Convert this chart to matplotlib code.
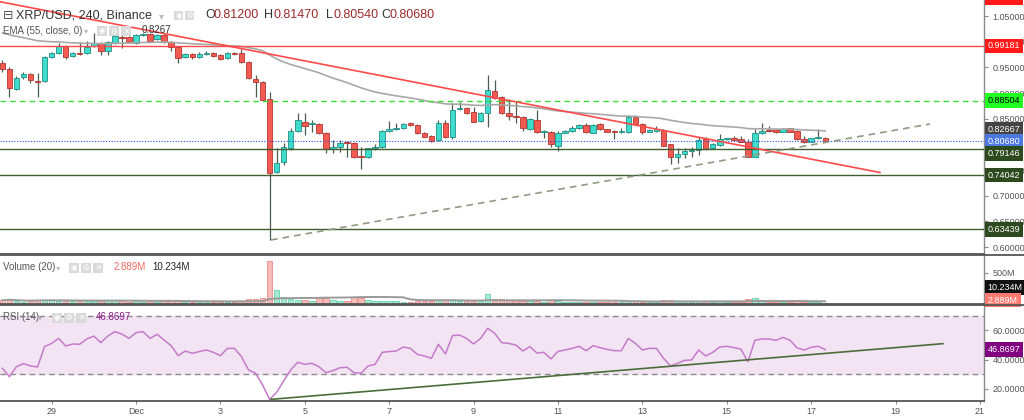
import numpy as np
import pandas as pd
import matplotlib
matplotlib.use("Agg")
import matplotlib.pyplot as plt
from matplotlib.patches import Rectangle
from matplotlib.lines import Line2D

plt.rcParams['font.family'] = ['Liberation Sans', 'DejaVu Sans']

# ---------------- data ----------------
first_bar = "2021-11-27 20:00"
opens = [
    .9587, .9470, .9080, .9314, .9372, .9236, .9236, .9703, .9781, .9918,
    .9723, .9781, .9781, .9918, .9976, .9820, .9976, 1.0093, 1.0093, .9976,
    1.0132, 1.0151, 1.0054, 1.0132, .9996, .9898, .9703, .9762, .9703, .9762,
    .9781, .9742, .9684, .9781, .9781, .9606, .9275, .9216, .8880, .7469,
    .7652, .7925, .8268, .8443, .8398, .8393, .8217, .7906, .7956, .8054,
    .8034, .7775, .7750, .7937, .7944, .8262, .8301, .8315, .8424, .8379,
    .8217, .8165, .8087, .8424, .8139, .8685, .8716, .8626, .8457, .8607,
    .9047, .8918, .8607, .8560, .8529, .8301, .8476, .8237, .8237, .7970,
    .8229, .8262, .8315, .8379, .8229, .8393, .8295, .8262, .8237, .8237,
    .8529, .8398, .8248, .8262, .8281, .8003, .7750, .7814, .7872, .7892,
    .8100, .7925, .7989, .8100, .8120, .8106, .8054, .7761, .8217, .8268,
    .8281, .8248, .8315, .8262, .8100, .8054, .8120, .8120]
highs = [
    .9645, .9509, .9333, .9411, .9392, .9392, .9723, .9801, .9976, .9937,
    .9801, .9996, 1.0015, 1.0171, .9996, 1.0015, 1.0132, 1.0171, 1.0112, 1.0151,
    1.0171, 1.0171, 1.0151, 1.0151, 1.0015, .9918, .9781, .9781, .9801, .9820,
    .9801, .9762, .9801, .9801, .9859, .9626, .9353, .9236, .9027, .7931,
    .8028, .8320, .8613, .8613, .8476, .8418, .8243, .8087, .8087, .8067,
    .8048, .7950, .7931, .8009, .8281, .8457, .8424, .8418, .8437, .8398,
    .8243, .8184, .8476, .8476, .8801, .8833, .8730, .8724, .8632, .9353,
    .9255, .8944, .8885, .8833, .8554, .8515, .8671, .8281, .8262, .8262,
    .8281, .8359, .8398, .8424, .8398, .8418, .8301, .8281, .8315, .8574,
    .8574, .8418, .8301, .8365, .8301, .8009, .7931, .7925, .7944, .8139,
    .8151, .8028, .8204, .8132, .8165, .8165, .8100, .8295, .8412, .8359,
    .8291, .8326, .8320, .8281, .8165, .8126, .8295, .8147]
lows = [
    .9411, .8924, .9061, .9275, .9197, .8924, .9216, .9684, .9762, .9665,
    .9703, .9742, .9762, .9898, .9742, .9742, .9957, .9879, .9976, .9957,
    1.0112, .9996, 1.0035, .9976, .9820, .9587, .9684, .9665, .9684, .9742,
    .9703, .9645, .9665, .9742, .9587, .9275, .8924, .8846, .6139, .7444,
    .7600, .7892, .8243, .8184, .8243, .8204, .7834, .7834, .7853, .7761,
    .7736, .7522, .7736, .7892, .7931, .8243, .8281, .8301, .8359, .8204,
    .8145, .8048, .8067, .8126, .8106, .8671, .8593, .8437, .8437, .8346,
    .8885, .8593, .8476, .8424, .8268, .8281, .8223, .8126, .7956, .7878,
    .8223, .8243, .8301, .8223, .8223, .8281, .8243, .8106, .8223, .8223,
    .8379, .8204, .8243, .8252, .7970, .7619, .7639, .7730, .7750, .7795,
    .7892, .7911, .7970, .8087, .8067, .8048, .7756, .7756, .8204, .8243,
    .8217, .8243, .8243, .8096, .8038, .8048, .8112, .8054]
closes = [
    .9470, .9099, .9294, .9372, .9255, .9216, .9703, .9781, .9918, .9703,
    .9781, .9762, .9898, .9976, .9820, .9996, 1.0112, 1.0073, .9996, 1.0132,
    1.0151, 1.0015, 1.0132, .9996, .9898, .9684, .9762, .9703, .9762, .9781,
    .9723, .9665, .9781, .9762, .9606, .9294, .9216, .8866, .7450, .7633,
    .7956, .8268, .8476, .8365, .8418, .8217, .7906, .7956, .8034, .8034,
    .7750, .7750, .7925, .7956, .8268, .8301, .8315, .8398, .8379, .8217,
    .8151, .8067, .8424, .8139, .8671, .8716, .8607, .8443, .8618, .9061,
    .8899, .8607, .8560, .8529, .8315, .8490, .8237, .8248, .8003, .8217,
    .8268, .8315, .8379, .8237, .8379, .8295, .8248, .8243, .8248, .8529,
    .8398, .8248, .8281, .8295, .7976, .7750, .7814, .7878, .7892, .8087,
    .7906, .8003, .8106, .8120, .8087, .8054, .7761, .8229, .8262, .8256,
    .8243, .8301, .8248, .8106, .8048, .8120, .8139, .8068]
volumes_m = [
    60, 78, 45, 40, 48, 70, 72, 68, 50, 55,
    42, 45, 50, 55, 48, 62, 58, 45, 40, 42,
    38, 45, 40, 42, 50, 55, 38, 36, 35, 33,
    35, 40, 36, 34, 55, 78, 75, 90, 700, 230,
    106, 88, 70, 62, 50, 100, 90, 60, 52, 48,
    105, 100, 60, 45, 55, 50, 42, 40, 38, 45,
    48, 52, 72, 70, 65, 50, 45, 50, 42, 160,
    78, 75, 60, 55, 55, 45, 50, 40, 60, 55,
    35, 32, 35, 40, 38, 35, 30, 32, 30, 55,
    45, 40, 35, 32, 60, 70, 55, 45, 40, 50,
    55, 40, 45, 35, 32, 35, 75, 95, 50, 40,
    35, 38, 32, 45, 40, 35, 38, 22]
rsi_values = [
    34.1, 28.4, 35.2, 37.3, 35.7, 35.0, 48.9, 51.1, 54.5, 49.3,
    50.7, 50.5, 54.1, 56.1, 51.6, 56.1, 59.1, 57.5, 54.5, 58.4,
    59.1, 54.5, 57.3, 53.4, 49.5, 42.7, 45.9, 44.3, 45.5, 46.6,
    45.0, 42.7, 47.7, 47.7, 42.0, 33.0, 30.7, 22.7, 12.9, 17.7,
    25.5, 33.0, 38.2, 36.8, 37.5, 35.2, 31.1, 32.5, 34.5, 34.8,
    31.1, 30.7, 35.7, 36.8, 45.0, 45.5, 45.9, 48.6, 47.7, 43.6,
    42.5, 40.9, 50.5, 43.9, 56.4, 56.8, 54.5, 50.7, 54.5, 61.4,
    58.0, 51.6, 51.1, 50.0, 45.9, 48.9, 44.5, 45.0, 40.5, 45.7,
    46.6, 47.7, 49.1, 46.1, 49.5, 48.2, 47.0, 46.1, 46.1, 54.5,
    51.1, 46.6, 47.7, 47.7, 40.9, 35.7, 37.5, 39.5, 39.8, 46.6,
    42.5, 45.0, 48.6, 49.1, 48.2, 47.3, 38.6, 53.2, 54.1, 54.1,
    53.2, 55.2, 53.2, 48.0, 46.6, 48.4, 49.1, 46.87]
ema_seed = 1.02
ema_length = 55
vol_ma_length = 20

# drawings (time, price)
red_trend = [("2021-11-27 18:39", 1.0780), ("2021-12-18 15:07", 0.7454)]
support_trend = [("2021-12-04 04:48", 0.6140), ("2021-12-19 19:34", 0.8398)]
rsi_trend = [("2021-12-04 04:48", 12.9), ("2021-12-20 02:53", 50.9)]
level_red = 0.99181
level_green = 0.88504
levels_dark = [0.79146, 0.74042, 0.63439]
last_price = 0.80680
ema_last = 0.82667

tick_dates = pd.date_range("2021-11-29", "2021-12-21", freq="2D")
tick_labels = ["29", "Dec", "3", "5", "7", "9", "11", "13", "15", "17", "19", "21"]
price_ticks = [0.60, 0.65, 0.70, 0.75, 0.80, 0.85, 0.90, 0.95, 1.00, 1.05]

# ---------------- helpers ----------------
origin = pd.Timestamp("2021-12-01")
def tnum(ts):
    return (pd.Timestamp(ts) - origin) / pd.Timedelta(days=1)

dates = pd.date_range(first_bar, periods=len(closes), freq="4h")
x = np.array([(d - origin) / pd.Timedelta(days=1) for d in dates])
O = np.array(opens); Hh = np.array(highs); L = np.array(lows); C = np.array(closes)
up = C >= O

ema = []
e = ema_seed
alpha = 2.0 / (ema_length + 1)
for c in closes:
    e = e + alpha * (c - e)
    ema.append(e)
vol_ma = pd.Series(volumes_m).rolling(vol_ma_length, min_periods=1).mean()

W, H = 1024, 420
fig = plt.figure(figsize=(W / 100, H / 100), dpi=100)
fig.patch.set_facecolor("white")
def fx(px): return px / W
def fy(py): return 1 - py / H

RSI_BOTTOM = 401
ax = fig.add_axes([0, fy(254.5), fx(984), 254.5 / H])
axv = fig.add_axes([0, fy(304), fx(984), (304 - 255) / H])
axr = fig.add_axes([0, fy(RSI_BOTTOM), fx(984), (RSI_BOTTOM - 305) / H])

XL = (-3.2227, 20.095)
UP, DN = "#3fdccd", "#f25a52"
UPE, DNE = "#1f8f84", "#b5352f"
WICK = "#4d5e50"

for a in (ax, axv, axr):
    a.set_xlim(*XL)
    a.set_facecolor("white")
    for s in ("left", "top"):
        a.spines[s].set_visible(False)
    a.spines["right"].set_color("#8a8a8a")
    a.spines["right"].set_linewidth(1)
    a.spines["bottom"].set_color("#555555")
    a.spines["bottom"].set_linewidth(1.3)
    a.yaxis.tick_right()
    a.tick_params(axis="y", direction="out", length=3, width=0.8, color="#888888",
                  labelcolor="#555555", labelsize=6.5, pad=3)

for a in (ax, axv):
    a.tick_params(axis="x", bottom=False, labelbottom=False)

# ---- main pane ----
ax.set_ylim(0.58566, 1.08136)
ax.set_yticks(price_ticks)
# the 0.80 label sits fully behind the price tags in the reference
ax.set_yticklabels(["" if abs(p - 0.80) < 1e-9 else f"{p:.5f}" for p in price_ticks])

bw = 0.13
ax.vlines(x, L, Hh, color=WICK, lw=0.9, zorder=2)
heights = np.maximum(np.abs(C - O), 0.0018)
bottoms = np.minimum(O, C)
ax.bar(x, heights, bottom=bottoms, width=bw,
       color=np.where(up, UP, DN), edgecolor=np.where(up, UPE, DNE), linewidth=0.6, zorder=3)

ax.plot(x, ema, color="#a8a8a8", lw=1.2, zorder=3.5)

ax.axhline(level_red, color="#ff4a4a", lw=1, zorder=4)
ax.axhline(level_green, color="#3cdc3c", lw=1, ls=(0, (4, 3)), zorder=4)
ax.axhline(last_price, color="#3050e0", lw=0.8, ls=(0, (1, 1.5)), zorder=4)
for lv in levels_dark:
    ax.axhline(lv, color="#3f5f30", lw=1, zorder=4)

ax.plot([tnum(t) for t, _ in red_trend], [p for _, p in red_trend], color="#ff4a4a", lw=1.2, zorder=4)
ax.plot([tnum(t) for t, _ in support_trend], [p for _, p in support_trend],
        color="#8d9c82", lw=1.2, ls=(0, (4, 3)), zorder=4)

def tag(a, y, text, fc, tc="white", dy=0):
    a.annotate(text, xy=(1.0, y), xycoords=("axes fraction", "data"), xytext=(2.6, dy),
               textcoords="offset points", ha="left", va="center", fontsize=6.5, color=tc,
               bbox=dict(boxstyle="square,pad=0.32", fc=fc, ec="none"),
               annotation_clip=False, zorder=10)

tag(ax, 1.0866, "1.08660", "#ff1a1a")
tag(ax, level_red, f"{level_red:.5f}", "#ff1a1a")
tag(ax, level_green, f"{level_green:.5f}", "#22ff22", tc="black")
tag(ax, ema_last, f"{ema_last:.5f}", "#444444", dy=0.8)
tag(ax, last_price, f"{last_price:.5f}", "#4c78e0", dy=-0.6)
tag(ax, levels_dark[0], f"{levels_dark[0]:.5f}", "#2d4a1e", dy=-3.5)
tag(ax, levels_dark[1], f"{levels_dark[1]:.5f}", "#2d4a1e")
tag(ax, levels_dark[2], f"{levels_dark[2]:.5f}", "#2d4a1e")

# ---- volume pane ----
axv.set_ylim(0, 790)
axv.set_yticks([500])
axv.set_yticklabels(["500M"])
axv.bar(x, volumes_m, width=bw, color=np.where(up, "#a6ead2", "#f8bdbb"),
        edgecolor=np.where(up, "#62d4aa", "#f08a86"), linewidth=0.6, zorder=2)
axv.plot(x, vol_ma, color="#9a9a9a", lw=1.4, zorder=3)
for text, fc, tc, yf in [("10.234M", "#111111", "white", 0.34), ("2.889M", "#ff7a70", "white", 0.08)]:
    axv.annotate(text, xy=(1.0, yf), xycoords="axes fraction", xytext=(2.6, 0),
                 textcoords="offset points", ha="left", va="center", fontsize=6.5, color=tc,
                 bbox=dict(boxstyle="square,pad=0.32", fc=fc, ec="none"),
                 annotation_clip=False, zorder=10)

# ---- RSI pane ----
axr.set_ylim(70 - (RSI_BOTTOM - 315.7) / 1.465, 77.3)
axr.fill_between(XL, 30, 70, color="#f2e4f2", zorder=0)
axr.axhline(70, color="#8c8c8c", lw=1, ls=(0, (4, 3)), zorder=1)
axr.axhline(30, color="#8c8c8c", lw=1, ls=(0, (4, 3)), zorder=1)
axr.plot(x, rsi_values, color="#c57acb", lw=1.1, zorder=3)
axr.plot([tnum(t) for t, _ in rsi_trend], [v for _, v in rsi_trend], color="#4a6e3a", lw=1.2, zorder=4)
axr.set_yticks([20, 40, 60])
axr.set_yticklabels(["20.0000", "40.0000", "60.0000"])
axr.annotate("46.8697", xy=(1.0, rsi_values[-1]),
             xycoords=("axes fraction", "data"), xytext=(2.6, 0), textcoords="offset points",
             ha="left", va="center", fontsize=6.5, color="white",
             bbox=dict(boxstyle="square,pad=0.32", fc="#800080", ec="none"),
             annotation_clip=False, zorder=10)
axr.set_xticks([tnum(d) for d in tick_dates])
axr.set_xticklabels(tick_labels)
axr.tick_params(axis="x", direction="out", length=2.5, width=0.8, color="#888888",
                labelcolor="#555555", labelsize=6.5, pad=2)

# pane separators across full width
for py in (255, 304.5):
    fig.add_artist(Line2D([0, 1], [fy(py), fy(py)], transform=fig.transFigure,
                          color="#555555", lw=1.3))

# ---- legends / header ----
def ftext(px, py, s, size=7, color="#555555", **kw):
    fig.text(fx(px), fy(py), s, fontsize=size, color=color, va="center", ha="left", **kw)

def icons(px, py, glyphs, size=10, gap=2):
    for k, g in enumerate(glyphs):
        x0 = px + k * (size + gap)
        fig.add_artist(Rectangle((fx(x0), fy(py + size)), size / W, size / H,
                                 transform=fig.transFigure, fc="#dadada", ec="none"))
        fig.text(fx(x0 + size / 2), fy(py + size / 2), g, fontsize=5.5, color="white",
                 ha="center", va="center", family=["DejaVu Sans"])

ftext(3, 15.5, "⊟", size=9, color="#555555", family=["DejaVu Sans"])
ftext(16, 15.5, "XRP/USD, 240, Binance", size=9, color="#333333")
ftext(159, 16, "▾", size=7, color="#bbbbbb", family=["DejaVu Sans"])
icons(174, 11, ["◉", "⚙"], size=9)
ohlc = [("O", 205, "0.81200", 214), ("H", 264, "0.81470", 273), ("L", 326, "0.80540", 333),
        ("C", 381, "0.80680", 390)]
for k, kx, v, vx in ohlc:
    ftext(kx, 15.5, k, size=9, color="#333333")
    ftext(vx, 15.5, v, size=9, color="#9e2a2a")

ftext(3, 31, "EMA (55, close, 0)", size=7, color="#555555")
ftext(84, 31, "▾", size=6, color="#bbbbbb", family=["DejaVu Sans"])
icons(97, 26, ["◉", "⚙", "✕"])
ftext(142, 30, "0.8267", size=7, color="#333333")

ftext(3, 267.5, "Volume (20)", size=7, color="#555555")
ftext(56, 267.5, "▾", size=6, color="#bbbbbb", family=["DejaVu Sans"])
icons(69, 262.5, ["◉", "⚙", "✕"])
ftext(114, 267.5, "2.889M", size=7, color="#f06a60")
ftext(152, 267.5, "10.234M", size=7, color="#222222")

ftext(3, 317.5, "RSI (14)", size=7, color="#555555")
ftext(38, 317.5, "▾", size=6, color="#bbbbbb", family=["DejaVu Sans"])
icons(52, 312.5, ["◉", "⚙", "✕"])
ftext(96, 317.5, "46.8697", size=7, color="#8b1c8b")

fig.savefig("out.png", dpi=100, facecolor="white")
